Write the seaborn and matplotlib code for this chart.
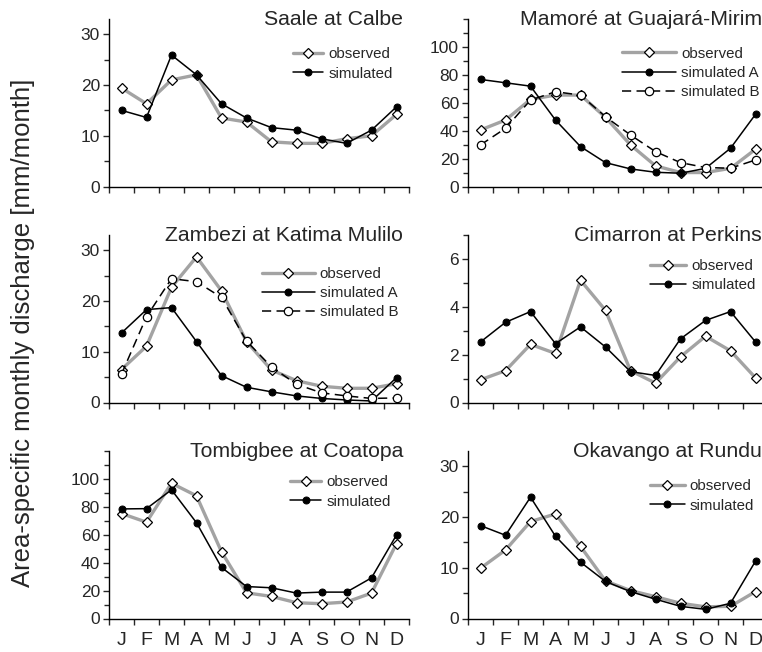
import numpy as np
import pandas as pd
import matplotlib
matplotlib.use("Agg")
import matplotlib.pyplot as plt
import seaborn as sns
from matplotlib.ticker import MultipleLocator, FixedLocator

sns.set_style("ticks")
plt.rcParams['font.family'] = ['Liberation Sans', 'DejaVu Sans']

month_labels = ["J", "F", "M", "A", "M", "J", "J", "A", "S", "O", "N", "D"]
months = np.arange(1, 13)

# Saale at Calbe
saale_obs = [19.4, 16.3, 21.0, 22.0, 13.5, 12.7, 8.8, 8.5, 8.5, 9.4, 10.0, 14.2]
saale_sim = [15.0, 13.6, 25.9, 22.0, 16.3, 13.5, 11.6, 11.1, 9.4, 8.5, 11.1, 15.7]

# Mamoré at Guajará-Mirim
mamore_obs = [40.5, 47.6, 62.4, 65.5, 65.5, 49.5, 29.8, 14.8, 10.0, 10.0, 13.0, 26.7]
mamore_sim_a = [76.7, 74.3, 71.9, 47.6, 28.6, 17.1, 12.6, 10.2, 9.5, 13.0, 27.4, 51.7]
mamore_sim_b = [29.8, 41.7, 61.9, 67.9, 65.5, 50.0, 36.9, 25.0, 17.1, 13.6, 13.1, 19.0]

# Zambezi at Katima Mulilo
zambezi_obs = [6.5, 11.1, 22.7, 28.7, 22.0, 12.0, 6.4, 4.3, 3.2, 2.8, 2.8, 3.7]
zambezi_sim_a = [13.7, 18.3, 18.7, 12.0, 5.3, 3.0, 2.1, 1.3, 0.8, 0.5, 0.3, 4.9]
zambezi_sim_b = [5.6, 16.9, 24.4, 23.8, 20.7, 12.1, 7.0, 3.6, 1.9, 1.3, 0.8, 0.9]

# Cimarron at Perkins
cimarron_obs = [0.95, 1.33, 2.43, 2.05, 5.11, 3.85, 1.33, 0.81, 1.91, 2.77, 2.16, 1.03]
cimarron_sim = [2.53, 3.35, 3.80, 2.46, 3.16, 2.32, 1.29, 1.13, 2.66, 3.43, 3.80, 2.53]

# Tombigbee at Coatopa
tombigbee_obs = [75.2, 69.0, 96.9, 87.9, 47.8, 18.4, 15.8, 11.3, 10.6, 11.8, 18.2, 53.7]
tombigbee_sim = [78.5, 78.7, 92.2, 68.6, 36.6, 22.9, 22.0, 18.2, 18.9, 18.9, 29.1, 59.8]

# Okavango at Rundu
okavango_obs = [9.9, 13.5, 19.1, 20.6, 14.2, 7.4, 5.5, 4.3, 3.0, 2.3, 2.4, 5.3]
okavango_sim = [18.3, 16.4, 23.9, 16.2, 11.1, 7.3, 5.3, 3.8, 2.4, 1.8, 3.0, 11.3]

panels = [
    dict(title="Saale at Calbe", obs=saale_obs, sims=[("simulated", saale_sim, "A")],
         ylim=33, yticks=[0, 10, 20, 30], minor=5, leg=(0.613, 0.83), hl=2.0, pos=(109, 19)),
    dict(title="Mamoré at Guajará-Mirim", obs=mamore_obs,
         sims=[("simulated A", mamore_sim_a, "A"), ("simulated B", mamore_sim_b, "B")],
         ylim=120, yticks=[0, 20, 40, 60, 80, 100], minor=10, leg=(0.513, 0.835), hl=3.6, pos=(468, 19)),
    dict(title="Zambezi at Katima Mulilo", obs=zambezi_obs,
         sims=[("simulated A", zambezi_sim_a, "A"), ("simulated B", zambezi_sim_b, "B")],
         ylim=33, yticks=[0, 10, 20, 30], minor=5, leg=(0.51, 0.81), hl=3.5, pos=(109, 235)),
    dict(title="Cimarron at Perkins", obs=cimarron_obs, sims=[("simulated", cimarron_sim, "A")],
         ylim=7, yticks=[0, 2, 4, 6], minor=1, leg=(0.607, 0.858), hl=2.4, pos=(468, 235)),
    dict(title="Tombigbee at Coatopa", obs=tombigbee_obs, sims=[("simulated", tombigbee_sim, "A")],
         ylim=120, yticks=[0, 20, 40, 60, 80, 100], minor=10, leg=(0.603, 0.855), hl=2.1, pos=(109, 451)),
    dict(title="Okavango at Rundu", obs=okavango_obs, sims=[("simulated", okavango_sim, "A")],
         ylim=33, yticks=[0, 10, 20, 30], minor=5, leg=(0.607, 0.83), hl=2.3, pos=(468, 451)),
]

W, H = 762, 652
fig = plt.figure(figsize=(W / 100, H / 100), dpi=100)

for i, p in enumerate(panels):
    x0, top = p["pos"]
    ax = fig.add_axes([x0 / W, 1 - (top + 167.5) / H, 300 / W, 167.5 / H])

    sns.lineplot(x=months, y=p["obs"], ax=ax, color="#a3a3a3", lw=2.4,
                 marker="D", ms=5.3, mfc="white", mec="black", mew=0.9,
                 label="observed", zorder=2)
    for name, vals, kind in p["sims"]:
        if kind == "A":
            sns.lineplot(x=months, y=vals, ax=ax, color="black", lw=1.1,
                         marker="o", ms=5, mfc="black", mec="black",
                         label=name, zorder=3)
        else:
            sns.lineplot(x=months, y=vals, ax=ax, color="black", lw=1.1,
                         linestyle=(0, (6, 3.5)), marker="o", ms=6,
                         mfc="white", mec="black", mew=0.9,
                         label=name, zorder=3)

    ax.set_xlim(0.5, 12.5)
    ax.set_ylim(0, p["ylim"])
    ax.yaxis.set_major_locator(FixedLocator(p["yticks"]))
    ax.yaxis.set_minor_locator(MultipleLocator(p["minor"]))
    ax.set_xticks(np.arange(0.5, 13.5, 1))
    ax.set_xticklabels([])
    ax.set_xticks(months, minor=True)
    if i >= 4:
        ax.set_xticklabels(month_labels, minor=True, fontsize=14)
    ax.tick_params(axis="x", which="minor", length=0, pad=10)
    ax.tick_params(axis="x", which="major", length=4.5, width=1, direction="out")
    ax.tick_params(axis="y", which="major", length=4.5, width=1, labelsize=12.5, pad=2)
    ax.tick_params(axis="y", which="minor", length=3.5, width=1)
    for s in ["top", "right"]:
        ax.spines[s].set_visible(False)
    for s in ["left", "bottom"]:
        ax.spines[s].set_linewidth(1)
        ax.spines[s].set_color("black")
    ax.set_xlabel("")
    ax.set_ylabel("")
    ax.patch.set_alpha(0)

    ax.text(0.98, 0.962, p["title"], transform=ax.transAxes, ha="right",
            va="baseline", fontsize=15.3)
    ax.legend(loc="upper left", bbox_to_anchor=p["leg"], frameon=False,
              fontsize=10.8, borderpad=0, borderaxespad=0, handlelength=p["hl"],
              handletextpad=0.35, labelspacing=0.35)

fig.text(0.030, 0.489, "Area-specific monthly discharge [mm/month]", rotation=90,
         ha="center", va="center", fontsize=18.5)

fig.savefig("out.png", dpi=100)
